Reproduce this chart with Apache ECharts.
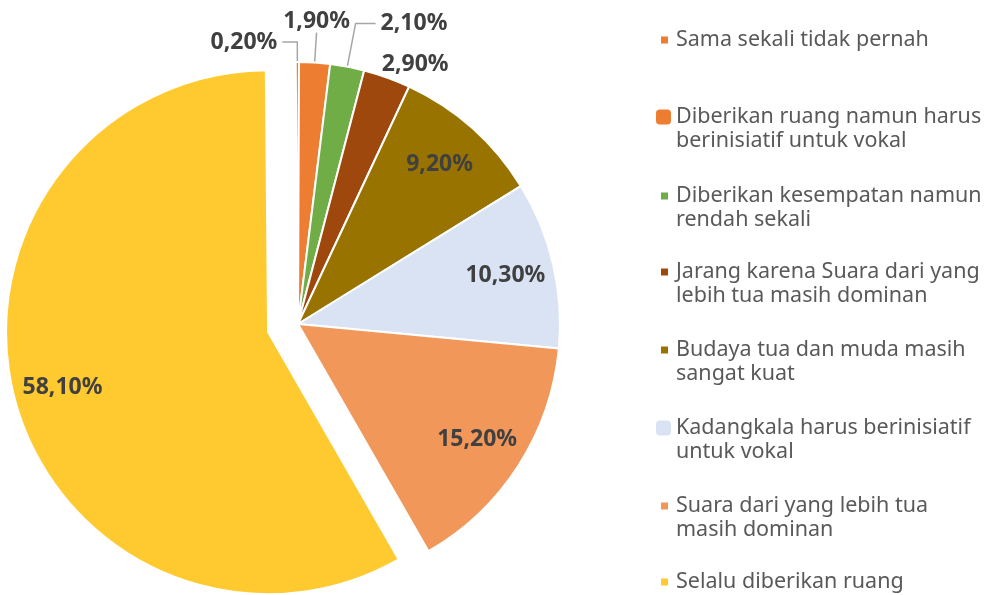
<!DOCTYPE html>
<html>
<head>
<meta charset="utf-8">
<title>Suara generasi muda</title>
<script src="https://cdn.jsdelivr.net/npm/echarts@6/dist/echarts.min.js"></script>
<style>
  html, body { margin: 0; padding: 0; background: #fff; }
  #main { width: 1005px; height: 595px; }
</style>
</head>
<body>
<div id="main"></div>
<script>
var categories = [
  'Sama sekali tidak pernah',
  'Diberikan ruang namun harus berinisiatif untuk vokal',
  'Diberikan kesempatan namun rendah sekali',
  'Jarang karena Suara dari yang lebih tua masih dominan',
  'Budaya tua dan muda masih sangat kuat',
  'Kadangkala harus berinisiatif untuk vokal',
  'Suara dari yang lebih tua masih dominan',
  'Selalu diberikan ruang'
];
var values = [0.2, 1.9, 2.1, 2.9, 9.2, 10.3, 15.2, 58.1];
var colors = ['#ED7D31', '#ED7D31', '#70AD47', '#9E480E', '#997300', '#DAE3F3', '#F1975A', '#FFC930'];
var legendLines = [
  'Sama sekali tidak pernah',
  'Diberikan ruang namun harus\nberinisiatif untuk vokal',
  'Diberikan kesempatan namun\nrendah sekali',
  'Jarang karena Suara dari yang\nlebih tua masih dominan',
  'Budaya tua dan muda masih\nsangat kuat',
  'Kadangkala harus berinisiatif\nuntuk vokal',
  'Suara dari yang lebih tua\nmasih dominan',
  'Selalu diberikan ruang'
];
var explodedName = 'Selalu diberikan ruang';

var FONT = 'Noto Sans';
var CENTER = [298, 324];
var R = 262;

function pct(v) {
  return v.toFixed(2).replace('.', ',') + '%';
}

// thin slices get their label outside, with a leader line
var outerLabel = {
  0: { length: 20, length2: 15, distance: 5 },
  1: { length: 30, length2: 0, distance: 0 },
  2: { length: 44, length2: 20, distance: 5 },
  3: { length: 14, length2: 0, distance: -10, hideLine: true }
};

var labelFont = {
  fontFamily: FONT,
  fontSize: 23,
  fontWeight: 'bold',
  color: '#404040',
  formatter: function (p) { return pct(p.value); }
};

var mainData = values.map(function (v, i) {
  var o = outerLabel[i];
  return {
    name: categories[i],
    value: v,
    selected: categories[i] === explodedName,
    itemStyle: { color: colors[i] },
    label: { show: !!o, distanceToLabelLine: o ? o.distance : 5 },
    labelLine: {
      show: !!o && !o.hideLine,
      length: o ? o.length : 15,
      length2: o ? o.length2 : 15
    }
  };
});

// second, see-through ring only carries the labels of the big slices
var innerData = values.map(function (v, i) {
  return {
    name: categories[i],
    value: v,
    selected: categories[i] === explodedName,
    label: { show: !outerLabel[i] }
  };
});

var legendTops = [40, 117, 196, 272, 350, 428, 506, 582]; // first line centre
var bigIcon = [1, 5];
var legends = categories.map(function (name, i) {
  var twoLines = legendLines[i].indexOf('\n') >= 0;
  var big = bigIcon.indexOf(i) >= 0;
  return {
    data: [{ name: name, icon: big ? 'roundRect' : 'rect' }],
    orient: 'vertical',
    left: big ? 656 : 661,
    top: legendTops[i] - (twoLines ? 36 : 12),
    padding: 0,
    itemWidth: big ? 15 : 7,
    itemHeight: big ? 15 : 7,
    itemStyle: { borderWidth: 0 },
    selectedMode: false,
    // a blank line on top keeps the marker level with the first text line
    formatter: function () { return twoLines ? ' \n' + legendLines[i] : legendLines[i]; },
    textStyle: {
      fontFamily: FONT,
      fontSize: 21.5,
      color: '#595959',
      lineHeight: 24,
      padding: [0, 0, 0, big ? 0 : 3]
    }
  };
});

var option = {
  animation: false,
  backgroundColor: '#fff',
  legend: legends,
  series: [
    {
      name: 'main',
      type: 'pie',
      center: CENTER,
      radius: [0, R],
      startAngle: 90.5,
      selectedMode: 'single',
      selectedOffset: 31,
      avoidLabelOverlap: false,
      itemStyle: { borderColor: '#fff', borderWidth: 2 },
      select: { itemStyle: { borderColor: '#fff', borderWidth: 2 } },
      emphasis: { disabled: true },
      label: Object.assign({ position: 'outside' }, labelFont),
      labelLine: { lineStyle: { color: '#A6A6A6', width: 1.5 } },
      labelLayout: function (p) {
        if (p.dataIndex === 1) {
          return { align: 'center', verticalAlign: 'bottom' };
        }
      },
      data: mainData
    },
    {
      name: 'labels',
      type: 'pie',
      center: CENTER,
      radius: [158, R],
      startAngle: 90.5,
      selectedMode: 'single',
      selectedOffset: 31,
      silent: true,
      avoidLabelOverlap: false,
      itemStyle: { color: 'rgba(0,0,0,0)', borderWidth: 0 },
      select: { itemStyle: { color: 'rgba(0,0,0,0)', borderWidth: 0 } },
      label: Object.assign({ position: 'inside' }, labelFont),
      labelLine: { show: false },
      data: innerData
    }
  ]
};

var myChart = echarts.init(document.getElementById('main'));
myChart.setOption(option);
</script>
</body>
</html>
